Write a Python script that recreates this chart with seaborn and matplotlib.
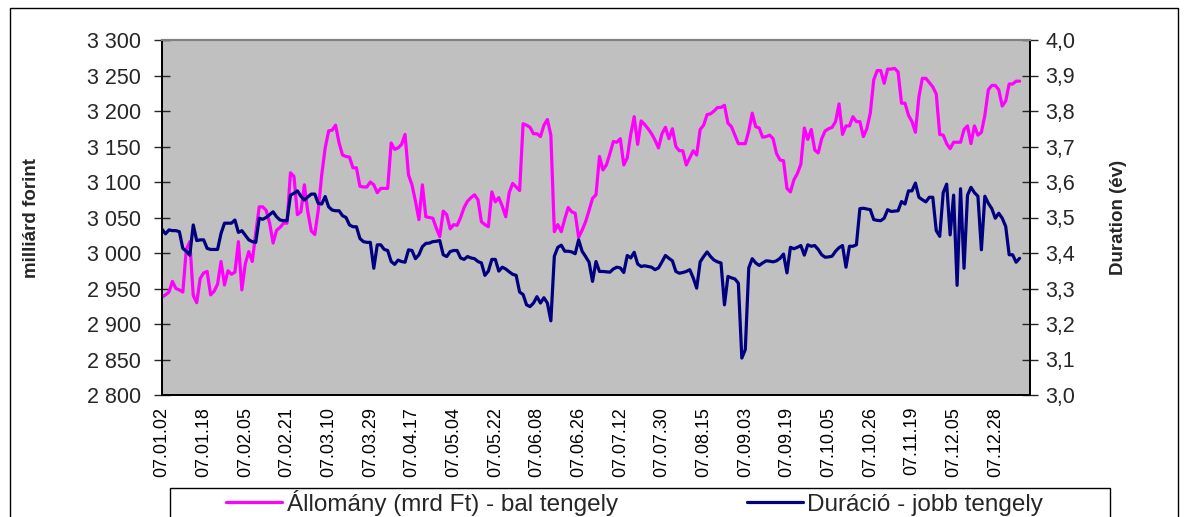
import matplotlib
matplotlib.use("Agg")
import matplotlib.pyplot as plt
import seaborn as sns
import pandas as pd
import numpy as np
from matplotlib.patches import Rectangle
from matplotlib.lines import Line2D

# ---------------- data ----------------
allomany = [
    2938, 2941, 2945, 2960, 2950, 2948, 2945, 3005, 3016, 2940,
    2930, 2964, 2972, 2974, 2941, 2946, 2956, 2988, 2955, 2975,
    2970, 2973, 3016, 2948, 2985, 3002, 2988, 3028, 3065, 3065,
    3060, 3042, 3014, 3032, 3036, 3042, 3042, 3113, 3108, 3054,
    3058, 3096, 3058, 3031, 3026, 3060, 3110, 3148, 3172, 3173,
    3180, 3155, 3138, 3136, 3135, 3120, 3120, 3094, 3093, 3093,
    3100, 3096, 3085, 3091, 3091, 3091, 3155, 3146, 3148, 3153,
    3167, 3110, 3096, 3073, 3047, 3096, 3051, 3050, 3049, 3035,
    3023, 3059, 3054, 3034, 3040, 3039, 3050, 3064, 3073, 3078,
    3082, 3075, 3044, 3040, 3037, 3086, 3072, 3078, 3066, 3051,
    3085, 3098, 3093, 3088, 3182, 3180, 3177, 3168, 3168, 3164,
    3180, 3188, 3166, 3030, 3040, 3030, 3048, 3064, 3058, 3056,
    3022, 3032, 3044, 3060, 3077, 3082, 3136, 3117, 3124, 3140,
    3157, 3156, 3161, 3124, 3134, 3167, 3192, 3153, 3186, 3181,
    3175, 3168, 3159, 3148, 3168, 3177, 3161, 3175, 3150, 3144,
    3144, 3124, 3134, 3144, 3138, 3174, 3180, 3195, 3196, 3200,
    3205, 3205, 3208, 3183, 3178, 3166, 3154, 3154, 3154, 3172,
    3197, 3178, 3176, 3163, 3164, 3166, 3161, 3140, 3131, 3130,
    3091, 3086, 3103, 3112, 3125, 3176, 3160, 3174, 3145, 3141,
    3161, 3172, 3175, 3177, 3185, 3210, 3167, 3179, 3179, 3192,
    3185, 3185, 3164, 3175, 3197, 3244, 3257, 3257, 3239, 3259,
    3259, 3260, 3255, 3211, 3211, 3194, 3185, 3170, 3220, 3246,
    3246, 3240, 3234, 3224, 3167, 3166, 3154, 3147, 3156, 3156,
    3156, 3174, 3179, 3154, 3179, 3166, 3170, 3194, 3230, 3236,
    3236, 3230, 3207, 3214, 3238, 3238, 3242, 3242,
]

duracio = [
    3.467, 3.454, 3.465, 3.463, 3.463, 3.460, 3.413, 3.405, 3.394, 3.479,
    3.435, 3.437, 3.437, 3.413, 3.410, 3.410, 3.410, 3.455, 3.484, 3.484,
    3.484, 3.493, 3.458, 3.463, 3.450, 3.437, 3.432, 3.430, 3.498, 3.495,
    3.500, 3.508, 3.516, 3.502, 3.493, 3.491, 3.491, 3.563, 3.568, 3.575,
    3.560, 3.549, 3.558, 3.566, 3.566, 3.540, 3.538, 3.559, 3.530, 3.521,
    3.519, 3.519, 3.505, 3.500, 3.479, 3.474, 3.474, 3.441, 3.432, 3.430,
    3.430, 3.357, 3.423, 3.423, 3.410, 3.407, 3.376, 3.368, 3.380, 3.376,
    3.374, 3.409, 3.407, 3.384, 3.395, 3.418, 3.427, 3.428, 3.432, 3.433,
    3.435, 3.395, 3.390, 3.404, 3.407, 3.407, 3.386, 3.382, 3.390, 3.386,
    3.384, 3.376, 3.372, 3.337, 3.349, 3.382, 3.382, 3.349, 3.360, 3.355,
    3.347, 3.340, 3.337, 3.290, 3.283, 3.254, 3.249, 3.259, 3.277, 3.259,
    3.274, 3.259, 3.209, 3.391, 3.416, 3.422, 3.405, 3.405, 3.403, 3.398,
    3.437, 3.405, 3.390, 3.374, 3.320, 3.376, 3.348, 3.348, 3.347, 3.346,
    3.355, 3.360, 3.358, 3.345, 3.393, 3.386, 3.402, 3.369, 3.362, 3.364,
    3.362, 3.360, 3.353, 3.358, 3.375, 3.393, 3.385, 3.378, 3.348, 3.343,
    3.345, 3.348, 3.353, 3.330, 3.301, 3.375, 3.390, 3.403, 3.390, 3.380,
    3.375, 3.372, 3.254, 3.334, 3.330, 3.327, 3.315, 3.104, 3.128, 3.358,
    3.384, 3.372, 3.365, 3.372, 3.378, 3.377, 3.375, 3.378, 3.385, 3.397,
    3.344, 3.416, 3.412, 3.416, 3.421, 3.394, 3.423, 3.419, 3.421, 3.410,
    3.395, 3.388, 3.389, 3.391, 3.405, 3.415, 3.421, 3.360, 3.419, 3.419,
    3.423, 3.525, 3.526, 3.524, 3.522, 3.494, 3.492, 3.491, 3.498, 3.522,
    3.517, 3.518, 3.519, 3.545, 3.538, 3.575, 3.575, 3.597, 3.557, 3.550,
    3.544, 3.557, 3.557, 3.463, 3.447, 3.570, 3.594, 3.451, 3.563, 3.309,
    3.581, 3.357, 3.563, 3.585, 3.570, 3.560, 3.409, 3.560, 3.540, 3.525,
    3.498, 3.512, 3.498, 3.475, 3.395, 3.395, 3.374, 3.385,
]

date_labels = [
    "07.01.02", "07.01.18", "07.02.05", "07.02.21", "07.03.10", "07.03.29",
    "07.04.17", "07.05.04", "07.05.22", "07.06.08", "07.06.26", "07.07.12",
    "07.07.30", "07.08.15", "07.09.03", "07.09.19", "07.10.05", "07.10.26",
    "07.11.19", "07.12.05", "07.12.28",
]
left_ticks = [2800, 2850, 2900, 2950, 3000, 3050, 3100, 3150, 3200, 3250, 3300]
left_labels = ["2 800", "2 850", "2 900", "2 950", "3 000", "3 050",
               "3 100", "3 150", "3 200", "3 250", "3 300"]
right_ticks = [3.0, 3.1, 3.2, 3.3, 3.4, 3.5, 3.6, 3.7, 3.8, 3.9, 4.0]
right_labels = ["3,0", "3,1", "3,2", "3,3", "3,4", "3,5", "3,6", "3,7",
                "3,8", "3,9", "4,0"]
label_step = 12

name_a = "Állomány (mrd Ft) - bal tengely"
name_d = "Duráció - jobb tengely"

n = len(allomany)
df = pd.DataFrame({"idx": np.arange(n), "allomany": allomany, "duracio": duracio})

# ---------------- style ----------------
sns.set_style("white")
plt.rcParams["font.family"] = ["Liberation Sans", "DejaVu Sans"]

W, H = 1186, 517
fig = plt.figure(figsize=(W / 100, H / 100), dpi=100)
L, R, T, B = 162, 1030, 40, 395
ax = fig.add_axes([L / W, 1 - B / H, (R - L) / W, (B - T) / H])
ax.set_facecolor("#C0C0C0")

MAG = "#FF00FF"
NAVY = "#000080"

sns.lineplot(data=df, x="idx", y="allomany", ax=ax, color=MAG, lw=2.3,
             legend=False)
ax2 = ax.twinx()
sns.lineplot(data=df, x="idx", y="duracio", ax=ax2, color=NAVY, lw=2.3,
             legend=False)

ax.set_xlim(0, 250)
ax.set_ylim(2800, 3300)
ax2.set_ylim(3.0, 4.0)

ax.set_yticks(left_ticks)
ax.set_yticklabels(left_labels, fontsize=15.5)
ax2.set_yticks(right_ticks)
ax2.set_yticklabels(right_labels, fontsize=15.5)

xt = list(range(n))
xl = [""] * n
for k, lab in enumerate(date_labels):
    xl[k * label_step] = lab
ax.set_xticks(xt)
ax.set_xticklabels(xl, rotation=90, fontsize=13)

ax.tick_params(axis="x", direction="inout", length=9, width=0.8, pad=4,
               colors="black")
ax.tick_params(axis="y", direction="inout", length=12, width=1, pad=9)
ax2.tick_params(axis="y", direction="inout", length=12, width=1, pad=5)
ax2.tick_params(axis="x", bottom=False)

ax.set_xlabel("")
ax.set_ylabel("milliárd forint", fontsize=13.5, fontweight="bold")
ax.yaxis.set_label_coords((40 - L) / (R - L), 0.5)
ax2.set_ylabel("Duration (év)", fontsize=13.5, fontweight="bold",
               rotation=90)
ax2.yaxis.set_label_coords((1110 - L) / (R - L), 0.5)

for a in (ax, ax2):
    for s in a.spines.values():
        s.set_visible(True)
    a.spines["top"].set_color("#808080")
    a.spines["top"].set_linewidth(1.5)
    for side in ("left", "right", "bottom"):
        a.spines[side].set_color("black")
        a.spines[side].set_linewidth(1.3)

# chart-area border
fig.patches.append(Rectangle((10 / W, -0.02), 1168 / W, 1.02 - 8 / H,
                             transform=fig.transFigure, fill=False,
                             edgecolor="black", lw=1.0))
# legend box
fig.patches.append(Rectangle((170 / W, -0.02), 940 / W, 0.02 + (517 - 488) / H,
                             transform=fig.transFigure, facecolor="white",
                             edgecolor="black", lw=1.0, zorder=5))
handles = [Line2D([0], [0], color=MAG, lw=2.3),
           Line2D([0], [0], color=NAVY, lw=2.3)]
leg = fig.legend(handles, [name_a, name_d], loc="center left",
                 bbox_to_anchor=(226 / W, 1 - 503 / H), ncol=2,
                 frameon=False, fontsize=17.5, handlelength=2.3,
                 handletextpad=0.2, columnspacing=5.3, borderpad=0,
                 borderaxespad=0)
leg.set_zorder(6)

fig.savefig("out.png", dpi=100)
